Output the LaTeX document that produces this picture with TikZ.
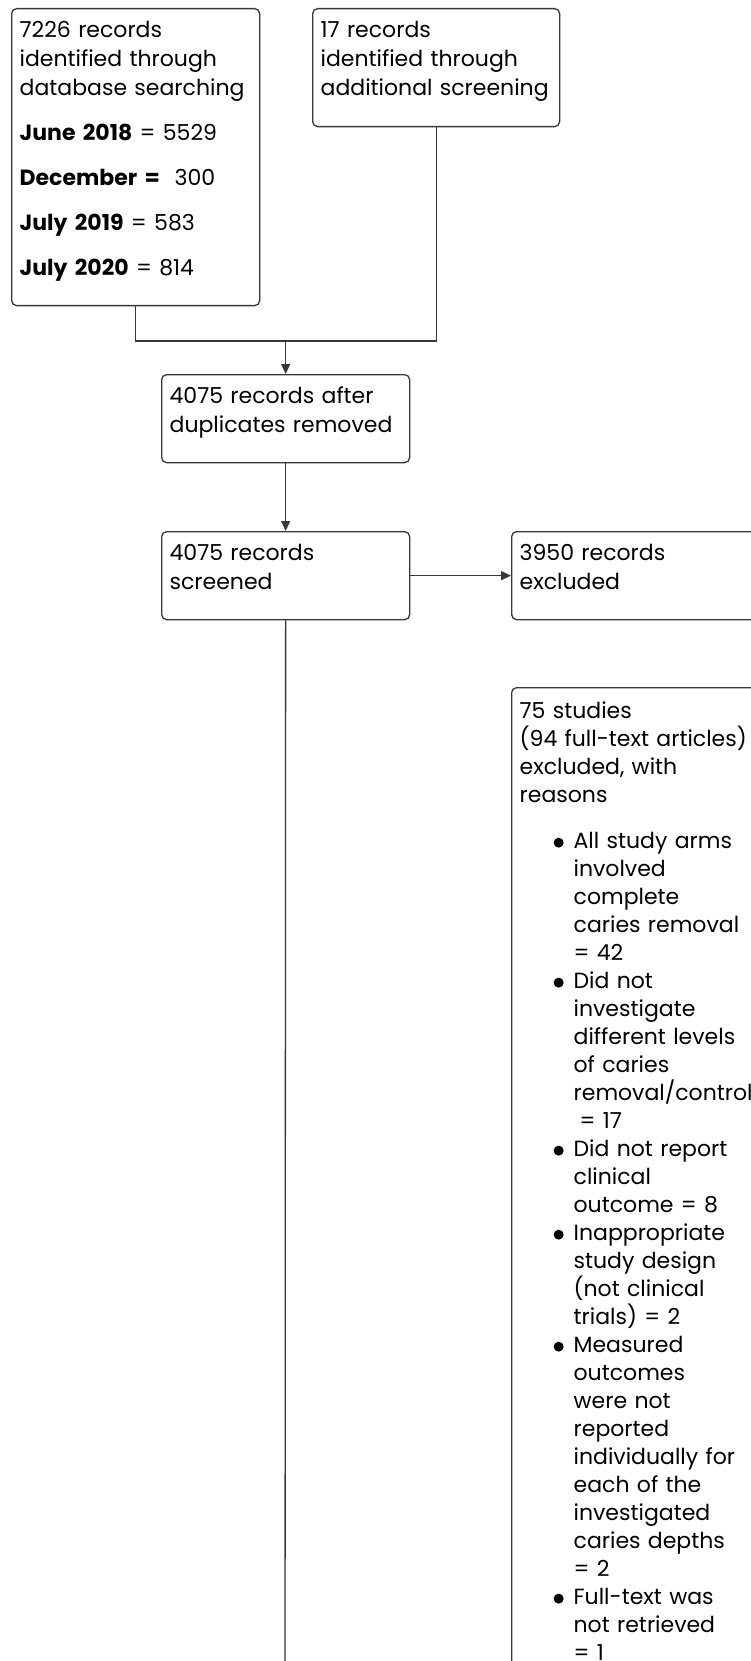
\documentclass[tikz,border=0pt]{standalone}
\usepackage{fontspec}
\setmainfont{Poppins}
\usetikzlibrary{arrows.meta}
\newcommand\myind{\hspace*{54pt}}
\newcommand\mybul{\hspace*{34pt}\makebox[20pt][l]{\tikz[x=1pt,y=1pt,baseline=0pt]\fill[black] (5,6) circle[radius=5pt];}}
\tikzset{
  box/.style={draw=black!78, line width=1.3pt, rounded corners=5pt, anchor=north west,
    align=left, inner xsep=8pt, inner ysep=0pt, text height=29pt,
    font=\fontsize{22}{29}\selectfont},
  smallbox/.style={box, text height=31pt, font=\fontsize{22}{28}\selectfont},
  conn/.style={draw=black!78, line width=1.3pt},
  arr/.style={conn, -{Triangle[length=10pt,width=9pt]}},
}
\begin{document}
\begin{tikzpicture}[x=1pt,y=-1pt]
\useasboundingbox (0,0) rectangle (751,1661);
\clip (0,0) rectangle (751,1661);
\fill[white] (0,0) rectangle (751,1661);
\node[box, text width=232pt, text depth=268pt] (b1) at (11,8)
  {7226 records\\identified through\\database searching\\[16pt]
   \textbf{June 2018} = 5529\\[16pt]
   \textbf{December =}\ \ 300\\[16pt]
   \textbf{July 2019} = 583\\[16pt]
   \textbf{July 2020} = 814};
\node[box, text width=231pt, text depth=89pt] (b2) at (312,8)
  {17 records\\identified through\\additional screening};
\node[box, text width=232pt, text depth=59pt] (b3) at (161,374)
  {4075 records after\\duplicates removed};
\node[box, text width=232pt, text depth=59pt] (b4) at (161,531)
  {4075 records\\screened};
\node[box, text width=232pt, text depth=59pt] (b5) at (511,531)
  {3950 records\\excluded};
\node[smallbox, text width=250pt, text depth=1000pt] (b6) at (511,687)
  {75 studies\\(94 full-text articles)\\excluded, with\\reasons\\[18pt]
   \mybul All study arms\\\myind involved\\\myind complete\\\myind caries removal\\\myind = 42\\
   \mybul Did not\\\myind investigate\\\myind different levels\\\myind of caries\\\myind removal/control\\\myind\hspace{6pt}= 17\\
   \mybul Did not report\\\myind clinical\\\myind outcome = 8\\
   \mybul Inappropriate\\\myind study design\\\myind (not clinical\\\myind trials) = 2\\
   \mybul Measured\\\myind outcomes\\\myind were not\\\myind reported\\\myind individually for\\\myind each of the\\\myind investigated\\\myind caries depths\\\myind = 2\\
   \mybul Full-text was\\\myind not retrieved\\\myind = 1};
\coordinate (j) at (b3.north |- 0,341);
\coordinate (bot) at (285,1720);
\draw[conn] (b1.south) |- (j);
\draw[conn] (b2.south) |- (j);
\draw[arr] (j) -- (b3.north);
\draw[arr] (b3.south) -- (b4.north);
\draw[arr] (b4.east) -- (b5.west);
\draw[conn] (b4.south) -- (bot);
\end{tikzpicture}
\end{document}
